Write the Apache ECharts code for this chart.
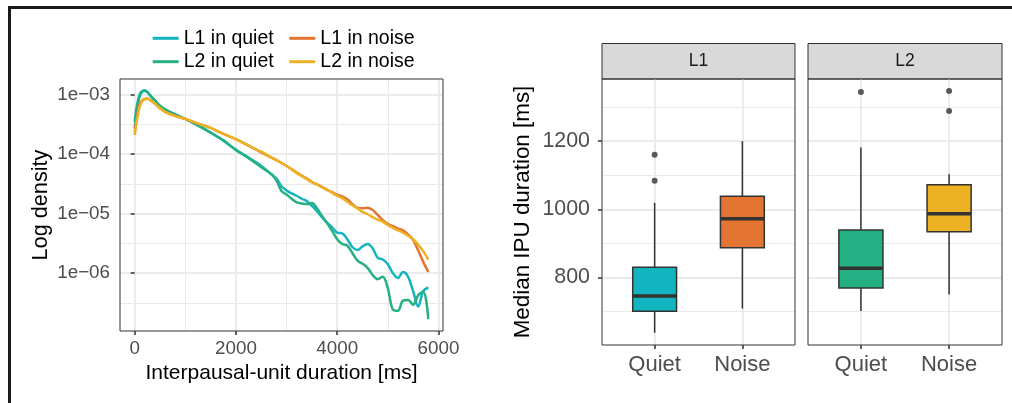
<!DOCTYPE html>
<html>
<head>
<meta charset="utf-8">
<script src="https://cdn.jsdelivr.net/npm/echarts@6.0.0/dist/echarts.min.js"></script>
<style>
  html, body { margin: 0; padding: 0; background: #fff; }
  #chart { width: 1012px; height: 403px; }
</style>
</head>
<body>
<div id="chart"></div>
<script>
// left panel: log10 density of interpausal-unit duration
const durations = [0, 50, 100, 150, 200, 250, 300, 400, 500, 600, 800, 1000, 1250, 1500, 1750, 2000, 2250, 2500, 2700,
  2800, 2900, 3000, 3100, 3200, 3300, 3400, 3500, 3600, 3700, 3800, 3900, 4000, 4100, 4200, 4300, 4400,
  4500, 4600, 4700, 4800, 4900, 5000, 5100, 5200, 5300, 5400, 5500, 5600, 5700, 5800]
const l1QuietLog = [-3.45, -3.16, -2.99, -2.94, -2.93, -2.96, -3.01, -3.10, -3.20, -3.25, -3.34, -3.41, -3.52, -3.64, -3.77, -3.93, -4.06, -4.20, -4.34,
  -4.41, -4.54, -4.61, -4.66, -4.70, -4.75, -4.79, -4.87, -4.96, -5.06, -5.15, -5.23, -5.32, -5.33, -5.43, -5.56, -5.61,
  -5.55, -5.51, -5.58, -5.74, -5.77, -5.85, -6.00, -6.08, -5.98, -6.06, -6.30, -6.56, -6.30, -6.24]
const l2QuietLog = [-3.57, -3.21, -3.03, -2.95, -2.94, -2.96, -3.01, -3.10, -3.19, -3.25, -3.33, -3.41, -3.52, -3.64, -3.77, -3.93, -4.07, -4.22, -4.34,
  -4.44, -4.62, -4.68, -4.75, -4.81, -4.83, -4.84, -4.82, -4.91, -5.04, -5.16, -5.29, -5.43, -5.51, -5.54, -5.66, -5.79,
  -5.84, -5.91, -6.03, -6.10, -6.06, -6.25, -6.61, -6.63, -6.46, -6.45, -6.53, -6.37, -6.31, -6.77]
const l1NoiseLog = [-3.64, -3.35, -3.16, -3.10, -3.07, -3.07, -3.09, -3.15, -3.23, -3.29, -3.36, -3.41, -3.49, -3.56, -3.66, -3.75, -3.86, -3.97, -4.06,
  -4.10, -4.15, -4.20, -4.25, -4.31, -4.36, -4.41, -4.47, -4.51, -4.55, -4.60, -4.64, -4.68, -4.71, -4.76, -4.84, -4.90,
  -4.91, -4.90, -4.94, -5.02, -5.11, -5.17, -5.21, -5.25, -5.28, -5.35, -5.44, -5.62, -5.81, -5.98]
const l2NoiseLog = [-3.68, -3.40, -3.20, -3.11, -3.08, -3.07, -3.09, -3.15, -3.23, -3.29, -3.36, -3.41, -3.49, -3.56, -3.66, -3.75, -3.86, -3.96, -4.06,
  -4.10, -4.15, -4.20, -4.26, -4.32, -4.37, -4.42, -4.47, -4.51, -4.56, -4.60, -4.65, -4.70, -4.74, -4.80, -4.86, -4.91,
  -4.97, -5.01, -5.06, -5.10, -5.14, -5.19, -5.24, -5.28, -5.32, -5.37, -5.43, -5.52, -5.63, -5.77]
const densityNames = ['L1 in quiet', 'L2 in quiet', 'L1 in noise', 'L2 in noise']
const durationTicks = [0, 2000, 4000, 6000]
const logTicks = [-6, -5, -4, -3]

// right panels: median IPU duration boxplots  [lower whisker, Q1, median, Q3, upper whisker]
const facets = ['L1', 'L2']
const boxCategories = ['Quiet', 'Noise']
const l1Boxes = [[638, 701, 746, 830, 1019], [709, 887, 972, 1038, 1200]]
const l2Boxes = [[702, 769, 827, 939, 1181], [750, 934, 987, 1072, 1103]]
const l1Outliers = [[1, 1084], [1, 1160]]
const l2Outliers = [[1, 1344], [2, 1288], [2, 1347]]
const ipuTicks = [800, 1000, 1200]

const teal = '#12b4bf', green = '#24b083', orange = '#e47431', yellow = '#ecb223'
const lineColors = [teal, green, orange, yellow]
const boxColors = [[teal, orange], [green, yellow]]

const gridLine = { lineStyle: { color: '#ebebeb', width: 2 } }
const minorLine = { show: true, lineStyle: { color: '#ebebeb', width: 1 } }
const minorTick = { show: false, splitNumber: 2 }
const tickStyle = { length: 4, lineStyle: { color: '#333', width: 1.5 } }
const plain = v => String(v)

function logLabel(v) {
  const e = Math.round(-v)
  return '1e\u2212' + String(e).padStart(2, '0')
}

function boxRenderer(colors) {
  return function (params, api) {
    const x = api.value(0)
    const cx = api.coord([x, api.value(1)])[0]
    const yLo = api.coord([x, api.value(1)])[1]
    const yQ1 = api.coord([x, api.value(2)])[1]
    const yMed = api.coord([x, api.value(3)])[1]
    const yQ3 = api.coord([x, api.value(4)])[1]
    const yHi = api.coord([x, api.value(5)])[1]
    const half = api.size([0.5, 0])[0] / 2
    const stroke = { stroke: '#333', lineWidth: 1.5 }
    return {
      type: 'group',
      children: [
        { type: 'line', shape: { x1: cx, y1: yHi, x2: cx, y2: yQ3 }, style: stroke },
        { type: 'line', shape: { x1: cx, y1: yQ1, x2: cx, y2: yLo }, style: stroke },
        { type: 'rect', shape: { x: cx - half, y: yQ3, width: half * 2, height: yQ1 - yQ3 },
          style: { fill: colors[params.dataIndex], stroke: '#333', lineWidth: 1.5 } },
        { type: 'line', shape: { x1: cx - half, y1: yMed, x2: cx + half, y2: yMed }, style: { stroke: '#333', lineWidth: 3.5 } }
      ]
    }
  }
}

const chart = echarts.init(document.getElementById('chart'))

const panelGrid = { show: true, z: 3, borderColor: '#333', borderWidth: 1, backgroundColor: 'transparent' }

const boxXAxis = (idx) => ({
  gridIndex: idx, type: 'value', min: 0.4, max: 2.6, splitNumber: 2,
  axisLine: { show: false },
  axisTick: Object.assign({ customValues: [1, 2] }, tickStyle),
  axisLabel: { customValues: [1, 2], margin: 9, fontSize: 22, color: '#4d4d4d', formatter: v => boxCategories[Math.round(v) - 1] },
  splitLine: gridLine
})
const boxYAxis = (idx, labelled) => ({
  gridIndex: idx, type: 'value', min: 602, max: 1382, splitNumber: 4,
  axisLine: { show: false },
  axisTick: Object.assign({ show: labelled, customValues: ipuTicks }, tickStyle),
  axisLabel: { show: labelled, customValues: ipuTicks, margin: 12, fontSize: 21.4, color: '#4d4d4d', formatter: plain },
  splitLine: gridLine,
  minorTick: minorTick,
  minorSplitLine: minorLine,
  name: labelled ? 'Median IPU duration [ms]' : '',
  nameLocation: 'middle', nameGap: 68,
  nameTextStyle: { fontSize: 22.4, color: '#000' }
})

const legendBase = {
  orient: 'vertical', top: 28.3, padding: 0, icon: 'rect', itemWidth: 26, itemHeight: 3, itemGap: 3.4,
  textStyle: { fontSize: 19.5, lineHeight: 20, color: '#000' }
}

const option = {
  animation: false,
  backgroundColor: '#fff',
  textStyle: { fontFamily: 'Liberation Sans, Arial, Helvetica, sans-serif' },
  legend: [
    Object.assign({ left: 152.7, data: [densityNames[0], densityNames[1]] }, legendBase),
    Object.assign({ left: 289.3, data: [densityNames[2], densityNames[3]] }, legendBase)
  ],
  grid: [
    Object.assign({ left: 120, top: 79, width: 323, height: 252 }, panelGrid),
    Object.assign({ left: 602, top: 79, width: 193, height: 266 }, panelGrid),
    Object.assign({ left: 808, top: 79, width: 194, height: 266 }, panelGrid)
  ],
  xAxis: [
    {
      gridIndex: 0, type: 'value', min: -290, max: 6090, splitNumber: 3,
      axisLine: { show: false },
      axisTick: Object.assign({ customValues: durationTicks }, tickStyle),
      axisLabel: { customValues: durationTicks, margin: 8, fontSize: 18.8, color: '#4d4d4d', formatter: plain },
      splitLine: gridLine,
      minorTick: minorTick,
      minorSplitLine: minorLine,
      name: 'Interpausal-unit duration [ms]', nameLocation: 'middle', nameGap: 30,
      nameTextStyle: { fontSize: 21, color: '#000' }
    },
    boxXAxis(1),
    boxXAxis(2)
  ],
  yAxis: [
    {
      gridIndex: 0, type: 'value', min: -6.97, max: -2.74, splitNumber: 4,
      axisLine: { show: false },
      axisTick: Object.assign({ customValues: logTicks }, tickStyle),
      axisLabel: { customValues: logTicks, margin: 10, fontSize: 18.8, color: '#4d4d4d', formatter: logLabel },
      splitLine: gridLine,
      minorTick: minorTick,
      minorSplitLine: minorLine,
      name: 'Log density', nameLocation: 'middle', nameGap: 68,
      nameTextStyle: { fontSize: 21.7, color: '#000' }
    },
    boxYAxis(1, true),
    boxYAxis(2, false)
  ],
  series: [
    ...[l1QuietLog, l2QuietLog, l1NoiseLog, l2NoiseLog].map((vals, i) => ({
      name: densityNames[i],
      type: 'line',
      xAxisIndex: 0, yAxisIndex: 0,
      symbol: 'none', smooth: 0.35,
      color: lineColors[i],
      lineStyle: { width: 2.5, color: lineColors[i] },
      data: durations.map((d, j) => [d, vals[j]])
    })),
    ...[l1Boxes, l2Boxes].map((boxes, f) => ({
      type: 'custom',
      xAxisIndex: f + 1, yAxisIndex: f + 1,
      renderItem: boxRenderer(boxColors[f]),
      encode: { x: 0, y: [1, 2, 3, 4, 5] },
      data: boxes.map((b, i) => [i + 1].concat(b))
    })),
    ...[l1Outliers, l2Outliers].map((pts, f) => ({
      type: 'scatter',
      xAxisIndex: f + 1, yAxisIndex: f + 1,
      symbolSize: 6, z: 4,
      itemStyle: { color: '#333' },
      data: pts
    }))
  ],
  graphic: [
    { type: 'rect', shape: { x: 8, y: 6, width: 1004, height: 3 }, style: { fill: '#1a1a1a' } },
    { type: 'rect', shape: { x: 8, y: 6, width: 3, height: 397 }, style: { fill: '#1a1a1a' } },
    ...facets.map((name, f) => {
      const left = f === 0 ? 602 : 808
      const width = f === 0 ? 193 : 194
      return {
        type: 'group',
        children: [
          { type: 'rect', shape: { x: left, y: 43.5, width: width, height: 35.5 }, style: { fill: '#d9d9d9', stroke: '#333', lineWidth: 1 } },
          { type: 'text', x: left + width / 2, y: 61.5,
            style: { text: name, font: '17.5px "Liberation Sans", Arial, sans-serif', fill: '#1a1a1a', align: 'center', verticalAlign: 'middle' } }
        ]
      }
    })
  ]
}

chart.setOption(option)
</script>
</body>
</html>
